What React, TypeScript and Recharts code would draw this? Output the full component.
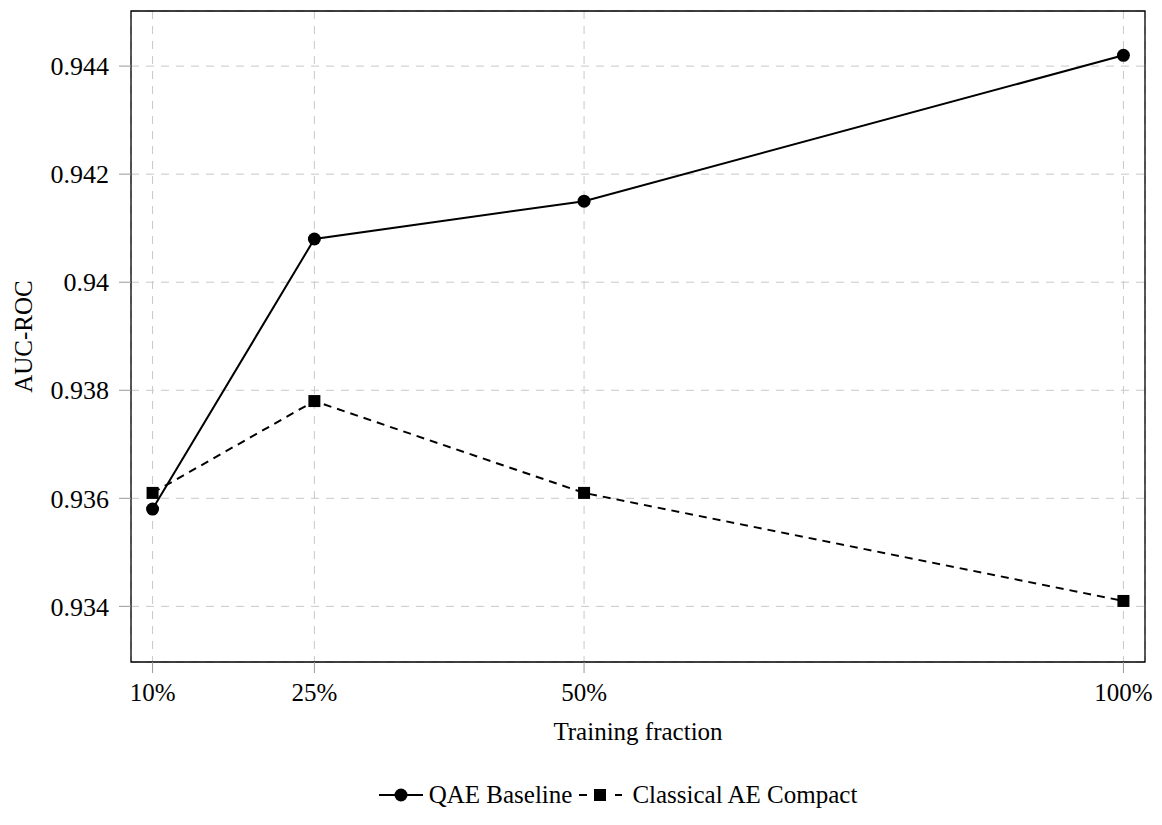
import {
  LineChart,
  Line,
  XAxis,
  YAxis,
  CartesianGrid,
  ReferenceArea,
  Label,
} from "recharts";

const fractions = [0.1, 0.25, 0.5, 1.0];
const fractionLabels = ["10%", "25%", "50%", "100%"];
const qaeBaseline = [0.9358, 0.9408, 0.9415, 0.9442];
const classicalCompact = [0.9361, 0.9378, 0.9361, 0.9341];
const yTicks = [0.934, 0.936, 0.938, 0.94, 0.942, 0.944];
const yTickLabels = ["0.934", "0.936", "0.938", "0.94", "0.942", "0.944"];

const data = fractions.map((f, i) => ({
  fraction: f,
  qae: qaeBaseline[i],
  classical: classicalCompact[i],
}));

const X_DOMAIN: [number, number] = [0.08, 1.02];
const Y_DOMAIN: [number, number] = [0.93297, 0.94502];
const FONT = "'Liberation Serif', 'Times New Roman', serif";

const SquareDot = (props: any) => {
  const { cx, cy } = props;
  if (cx == null || cy == null) return null;
  return <rect x={cx - 6} y={cy - 6} width={12} height={12} fill="#000" />;
};

const YTitle = (props: any) => {
  const vb = props.viewBox;
  const cy = vb.y + vb.height / 2;
  return (
    <text
      x={23}
      y={cy}
      transform={`rotate(-90, 23, ${cy})`}
      textAnchor="middle"
      dominantBaseline="central"
      fontFamily={FONT}
      fontSize={25}
      fill="#000"
    >
      AUC-ROC
    </text>
  );
};

export default function App() {
  return (
    <div style={{ position: "absolute", left: 0, top: 0, width: 1162, height: 825, fontFamily: FONT }}>
      <LineChart
        width={1162}
        height={825}
        data={data}
        margin={{ top: 11, right: 17, left: 0, bottom: 73 }}
      >
        <CartesianGrid stroke="#c8c8c8" strokeDasharray="8 7" />
        <XAxis
          dataKey="fraction"
          type="number"
          domain={X_DOMAIN}
          ticks={fractions}
          tickFormatter={(v: number) => fractionLabels[fractions.indexOf(v)] ?? ""}
          axisLine={false}
          tickLine={{ stroke: "#999" }}
          tickSize={11}
          tickMargin={10}
          height={90}
          tick={{ fill: "#000", fontSize: 25, fontFamily: FONT }}
          allowDataOverflow
        >
          <Label
            value="Training fraction"
            position="insideBottom"
            offset={12}
            style={{ fill: "#000", fontSize: 25, fontFamily: FONT }}
          />
        </XAxis>
        <YAxis
          type="number"
          domain={Y_DOMAIN}
          ticks={yTicks}
          tickFormatter={(v: number) => yTickLabels[yTicks.indexOf(v)] ?? ""}
          axisLine={false}
          tickLine={{ stroke: "#999" }}
          tickSize={12}
          tickMargin={10}
          width={131}
          tick={{ fill: "#000", fontSize: 26, fontFamily: FONT }}
          allowDataOverflow
        >
          <Label content={<YTitle />} />
        </YAxis>
        <ReferenceArea
          x1={X_DOMAIN[0]}
          x2={X_DOMAIN[1]}
          y1={Y_DOMAIN[0]}
          y2={Y_DOMAIN[1]}
          fill="none"
          stroke="#000"
          strokeWidth={1.3}
          ifOverflow="visible"
        />
        <Line
          type="linear"
          dataKey="qae"
          stroke="#000"
          strokeWidth={2}
          dot={{ r: 6.5, fill: "#000", stroke: "#000", strokeWidth: 0 }}
          isAnimationActive={false}
        />
        <Line
          type="linear"
          dataKey="classical"
          stroke="#000"
          strokeWidth={2}
          strokeDasharray="8 6"
          dot={<SquareDot />}
          isAnimationActive={false}
        />
      </LineChart>
      <div
        style={{
          position: "absolute",
          left: 0,
          top: 780,
          width: 1162,
          display: "flex",
          justifyContent: "center",
          alignItems: "center",
          paddingLeft: 74,
          boxSizing: "border-box",
          fontSize: 25,
          color: "#000",
        }}
      >
        <svg width={44} height={30} style={{ marginRight: 6 }}>
          <line x1={0} y1={15} x2={44} y2={15} stroke="#000" strokeWidth={2} />
          <circle cx={22} cy={15} r={6.5} fill="#000" />
        </svg>
        <span style={{ marginRight: 6 }}>QAE Baseline</span>
        <svg width={44} height={30} style={{ marginRight: 10 }}>
          <line x1={0} y1={15} x2={44} y2={15} stroke="#000" strokeWidth={2} strokeDasharray="8 10" strokeDashoffset={-1} />
          <rect x={16} y={9} width={12} height={12} fill="#000" />
        </svg>
        <span>Classical AE Compact</span>
      </div>
    </div>
  );
}
